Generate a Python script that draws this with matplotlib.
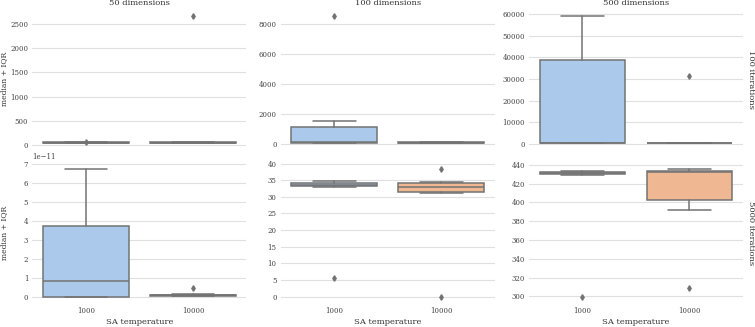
import numpy as np
import matplotlib
matplotlib.use("Agg")
import matplotlib.pyplot as plt
from matplotlib.ticker import MultipleLocator
import seaborn as sns

sns.set_style("whitegrid")
plt.rcParams["font.family"] = ["DejaVu Serif"]

dims = ["50 dimensions", "100 dimensions", "500 dimensions"]
iters = ["100 iterations", "5000 iterations"]
temps = ["1000", "10000"]

# box stats per [row][col][temperature]
whislo = [[[36, 36], [95, 85], [290, 270]],
          [[0.0, 0.03e-11], [33.0, 31.0], [429.1, 392.3]]]
q1 = [[[38, 38], [100, 90], [300, 280]],
      [[0.0, 0.04e-11], [33.2, 31.5], [429.8, 402.1]]]
med = [[[45, 45], [150, 110], [500, 320]],
       [[0.82e-11, 0.07e-11], [33.7, 33.0], [431.2, 432.6]]]
q3 = [[[52, 50], [1187, 130], [38870, 380]],
      [[3.72e-11, 0.10e-11], [34.1, 34.1], [432.6, 433.0]]]
whishi = [[[60, 58], [1535, 150], [59400, 450]],
          [[6.75e-11, 0.12e-11], [34.8, 34.4], [433.3, 435.4]]]
fliers = [[[[65], [2680]], [[8590], []], [[], [31240]]],
          [[[], [0.45e-11]], [[5.5], [38.3, 0.0]], [[299.5], [308.4]]]]

ytick_step = [[500, 2000, 10000], [1e-11, 5, 20]]

colors = ["#abc9ea", "#efb792"]
edge = "#737373"
text_col = "#333333"

fig, axes = plt.subplots(2, 3, figsize=(7.55, 3.27), dpi=100)
fig.subplots_adjust(left=0.043, right=0.984, top=0.972, bottom=0.073,
                    wspace=0.16, hspace=0.095)

for r in range(2):
    for c in range(3):
        ax = axes[r, c]
        stats = []
        for t in range(2):
            stats.append(dict(label=temps[t], whislo=whislo[r][c][t], q1=q1[r][c][t],
                              med=med[r][c][t], q3=q3[r][c][t],
                              whishi=whishi[r][c][t], fliers=fliers[r][c][t]))
        bp = ax.bxp(stats, positions=[0, 1], widths=0.8, patch_artist=True,
                    boxprops=dict(edgecolor=edge, linewidth=1.1),
                    medianprops=dict(color=edge, linewidth=1.1),
                    whiskerprops=dict(color=edge, linewidth=1.1),
                    capprops=dict(color=edge, linewidth=1.1),
                    flierprops=dict(marker="d", markersize=2.8, markerfacecolor=edge,
                                    markeredgecolor=edge, linestyle="none"))
        for patch, col in zip(bp["boxes"], colors):
            patch.set_facecolor(col)
        ax.set_xlim(-0.5, 1.5)
        ax.yaxis.set_major_locator(MultipleLocator(ytick_step[r][c]))
        ax.xaxis.grid(False)
        ax.yaxis.grid(True, color="#e0e0e0", linewidth=0.8)
        for s in ax.spines.values():
            s.set_visible(False)
        ax.tick_params(labelsize=5, colors="#444444", length=0, pad=3)
        ax.yaxis.get_offset_text().set_fontsize(5)
        ax.yaxis.get_offset_text().set_color("#444444")
        if r == 0:
            ax.set_title(dims[c], fontsize=6, color=text_col, pad=3)
            ax.set_xticklabels([])
        else:
            ax.set_xlabel("SA temperature", fontsize=6, color=text_col, labelpad=2)
        if c == 0:
            ax.set_ylabel("median + IQR", fontsize=5.5, color=text_col)
            ax.yaxis.set_label_coords(-0.115, 0.5)
        if c == 2:
            ax.text(1.02, 0.5, iters[r], transform=ax.transAxes, rotation=270,
                    va="center", ha="left", fontsize=6, color=text_col)

fig.savefig("out.png", dpi=100)
